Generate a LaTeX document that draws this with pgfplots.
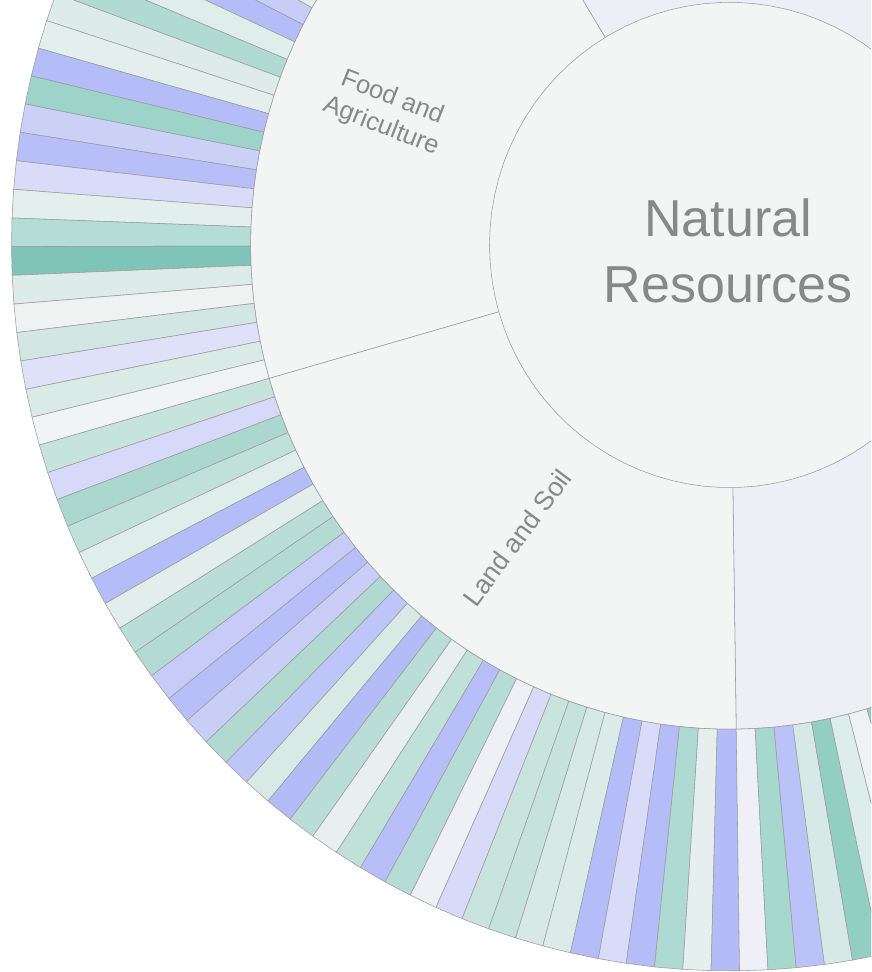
\documentclass[border=0pt]{standalone}
\usepackage{fontspec}
\setmainfont{Liberation Sans}
\usepackage{pgfplots}
\pgfplotsset{compat=1.18}
\definecolor{rootcol}{HTML}{F3F4F4}
\definecolor{parentcol}{HTML}{F3F4F4}
\definecolor{othercol}{HTML}{EEEFF6}
\definecolor{edgecol}{HTML}{9C9C9C}
\definecolor{txtcol}{HTML}{888888}
\pgfplotsset{wedge/.style={data cs=polar, draw=edgecol, line width=0.55pt, line join=round}}
\newcommand{\leaf}[3]{\definecolor{c#3}{HTML}{#3}\addplot[wedge, fill=c#3] coordinates {(#1,479) (#1,718) (#2,718) (#2,479) (#1,479)};}
\begin{document}
\begin{tikzpicture}
\begin{axis}[scale only axis, width=871pt, height=972pt,
  xmin=-729.5, xmax=141.5, ymin=-719.1, ymax=242.3,
  hide axis, clip=true, clip mode=global]
% other parents (middle ring)
\addplot[wedge, fill=othercol] coordinates {(0,0) (270.80,479) (273.07,479) (275.33,479) (277.60,479) (279.87,479) (282.13,479) (284.40,479) (286.67,479) (288.93,479) (291.20,479) (300,479) (310,479) (320,479) (330,479) (340,479) (350,479) (360,479) (370,479) (380,479) (390,479) (400,479) (410,479) (420,479) (430,479) (440,479) (450,479) (460,479) (470,479) (481.20,479) (0,0)};
% Food and Agriculture
\addplot[wedge, fill=parentcol] coordinates {(0,0) (121.20,479) (123.47,479) (125.73,479) (128.00,479) (130.27,479) (132.53,479) (134.80,479) (137.07,479) (139.33,479) (141.60,479) (143.87,479) (146.13,479) (148.40,479) (150.67,479) (152.93,479) (155.20,479) (157.47,479) (159.73,479) (162.00,479) (164.27,479) (166.53,479) (168.80,479) (171.07,479) (173.33,479) (175.60,479) (177.87,479) (180.13,479) (182.40,479) (184.67,479) (186.93,479) (189.20,479) (191.47,479) (193.73,479) (196.00,479) (0,0)};
% Land and Soil
\addplot[wedge, fill=parentcol] coordinates {(0,0) (196.00,479) (198.27,479) (200.53,479) (202.80,479) (205.07,479) (207.33,479) (209.60,479) (211.87,479) (214.13,479) (216.40,479) (218.67,479) (220.93,479) (223.20,479) (225.47,479) (227.73,479) (230.00,479) (232.27,479) (234.53,479) (236.80,479) (239.07,479) (241.33,479) (243.60,479) (245.87,479) (248.13,479) (250.40,479) (252.67,479) (254.93,479) (257.20,479) (259.47,479) (261.73,479) (264.00,479) (266.27,479) (268.53,479) (270.80,479) (0,0)};
% root
\addplot[wedge, fill=rootcol] coordinates {(0,240) (4,240) (8,240) (12,240) (16,240) (20,240) (24,240) (28,240) (32,240) (36,240) (40,240) (44,240) (48,240) (52,240) (56,240) (60,240) (64,240) (68,240) (72,240) (76,240) (80,240) (84,240) (88,240) (92,240) (96,240) (100,240) (104,240) (108,240) (112,240) (116,240) (120,240) (124,240) (128,240) (132,240) (136,240) (140,240) (144,240) (148,240) (152,240) (156,240) (160,240) (164,240) (168,240) (172,240) (176,240) (180,240) (184,240) (188,240) (192,240) (196,240) (200,240) (204,240) (208,240) (212,240) (216,240) (220,240) (224,240) (228,240) (232,240) (236,240) (240,240) (244,240) (248,240) (252,240) (256,240) (260,240) (264,240) (268,240) (272,240) (276,240) (280,240) (284,240) (288,240) (292,240) (296,240) (300,240) (304,240) (308,240) (312,240) (316,240) (320,240) (324,240) (328,240) (332,240) (336,240) (340,240) (344,240) (348,240) (352,240) (356,240) (360,240)};
% Food leaves
\leaf{121.20}{123.47}{D0E5E1}
\leaf{123.47}{125.73}{B8BFF8}
\leaf{125.73}{128.00}{E2EFED}
\leaf{128.00}{130.27}{A9D6CD}
\leaf{130.27}{132.53}{DCDFF8}
\leaf{132.53}{134.80}{C4E2DC}
\leaf{134.80}{137.07}{E6EFEE}
\leaf{137.07}{139.33}{B5BDF8}
\leaf{139.33}{141.60}{D6E9E6}
\leaf{141.60}{143.87}{C8CDF7}
\leaf{143.87}{146.13}{B9DDD6}
\leaf{146.13}{148.40}{E9F1F0}
\leaf{148.40}{150.67}{E6EFEE}
\leaf{150.67}{152.93}{C8CDF7}
\leaf{152.93}{155.20}{B5BDF8}
\leaf{155.20}{157.47}{E0EEEB}
\leaf{157.47}{159.73}{B0DAD2}
\leaf{159.73}{162.00}{DDECE9}
\leaf{162.00}{164.27}{E2EFED}
\leaf{164.27}{166.53}{B5BDF8}
\leaf{166.53}{168.80}{9DD3C8}
\leaf{168.80}{171.07}{CBD0F7}
\leaf{171.07}{173.33}{B7BEF8}
\leaf{173.33}{175.60}{D9DCF8}
\leaf{175.60}{177.87}{E3EFED}
\leaf{177.87}{180.13}{B5DDD7}
\leaf{180.13}{182.40}{7FC4B8}
\leaf{182.40}{184.67}{DDEBE9}
\leaf{184.67}{186.93}{EEF3F2}
\leaf{186.93}{189.20}{D2E7E3}
\leaf{189.20}{191.47}{DFE1F8}
\leaf{191.47}{193.73}{DAEAE7}
\leaf{193.73}{196.00}{F1F4F4}
% Land leaves
\leaf{196.00}{198.27}{C6E3DD}
\leaf{198.27}{200.53}{D6D9F8}
\leaf{200.53}{202.80}{ABD7CF}
\leaf{202.80}{205.07}{C0E1DA}
\leaf{205.07}{207.33}{E0EEEB}
\leaf{207.33}{209.60}{B4BDF8}
\leaf{209.60}{211.87}{E1EEEC}
\leaf{211.87}{214.13}{BADED7}
\leaf{214.13}{216.40}{B3DBD3}
\leaf{216.40}{218.67}{C6CBF7}
\leaf{218.67}{220.93}{B8BFF8}
\leaf{220.93}{223.20}{C9CEF7}
\leaf{223.20}{225.47}{B1D9D2}
\leaf{225.47}{227.73}{BEC5F8}
\leaf{227.73}{230.00}{D9E9E6}
\leaf{230.00}{232.27}{B3BCF7}
\leaf{232.27}{234.53}{BADED7}
\leaf{234.53}{236.80}{E8F0EF}
\leaf{236.80}{239.07}{C0E0DA}
\leaf{239.07}{241.33}{B8BFF8}
\leaf{241.33}{243.60}{B5DDD6}
\leaf{243.60}{245.87}{EEF0F5}
\leaf{245.87}{248.13}{D8DBF8}
\leaf{248.13}{250.40}{C9E4DF}
\leaf{250.40}{252.67}{C5E2DC}
\leaf{252.67}{254.93}{D6E9E6}
\leaf{254.93}{257.20}{DCEBE8}
\leaf{257.20}{259.47}{B5BDF8}
\leaf{259.47}{261.73}{D9DCF8}
\leaf{261.73}{264.00}{B5BDF8}
\leaf{264.00}{266.27}{AEDAD3}
\leaf{266.27}{268.53}{E5EFED}
\leaf{268.53}{270.80}{B3BCF7}
% next parent leaves
\leaf{270.80}{273.07}{EEEFF7}
\leaf{273.07}{275.33}{A6D8CE}
\leaf{275.33}{277.60}{BBC2F8}
\leaf{277.60}{279.87}{D6E9E6}
\leaf{279.87}{282.13}{93CEC3}
\leaf{282.13}{284.40}{DDEDEA}
\leaf{284.40}{286.67}{EEF2F3}
\leaf{286.67}{288.93}{93CEC3}
\leaf{288.93}{291.20}{D0E5E1}
% labels
\node[txtcol, font=\fontsize{52}{66}\selectfont, align=center] at (axis cs:-1.5,-6) {Natural\\Resources};
\node[txtcol, font=\fontsize{25.5}{30.5}\selectfont, align=center, rotate=-21.4] at (axis cs:-343,131) {Food and\\Agriculture};
\node[txtcol, font=\fontsize{26.5}{31}\selectfont, align=center, rotate=53.4] at (axis cs:-212.5,-289.5) {Land and Soil};
\end{axis}
\pgfresetboundingbox
\path[use as bounding box] (current axis.south west) rectangle (current axis.north east);
\end{tikzpicture}
\end{document}
